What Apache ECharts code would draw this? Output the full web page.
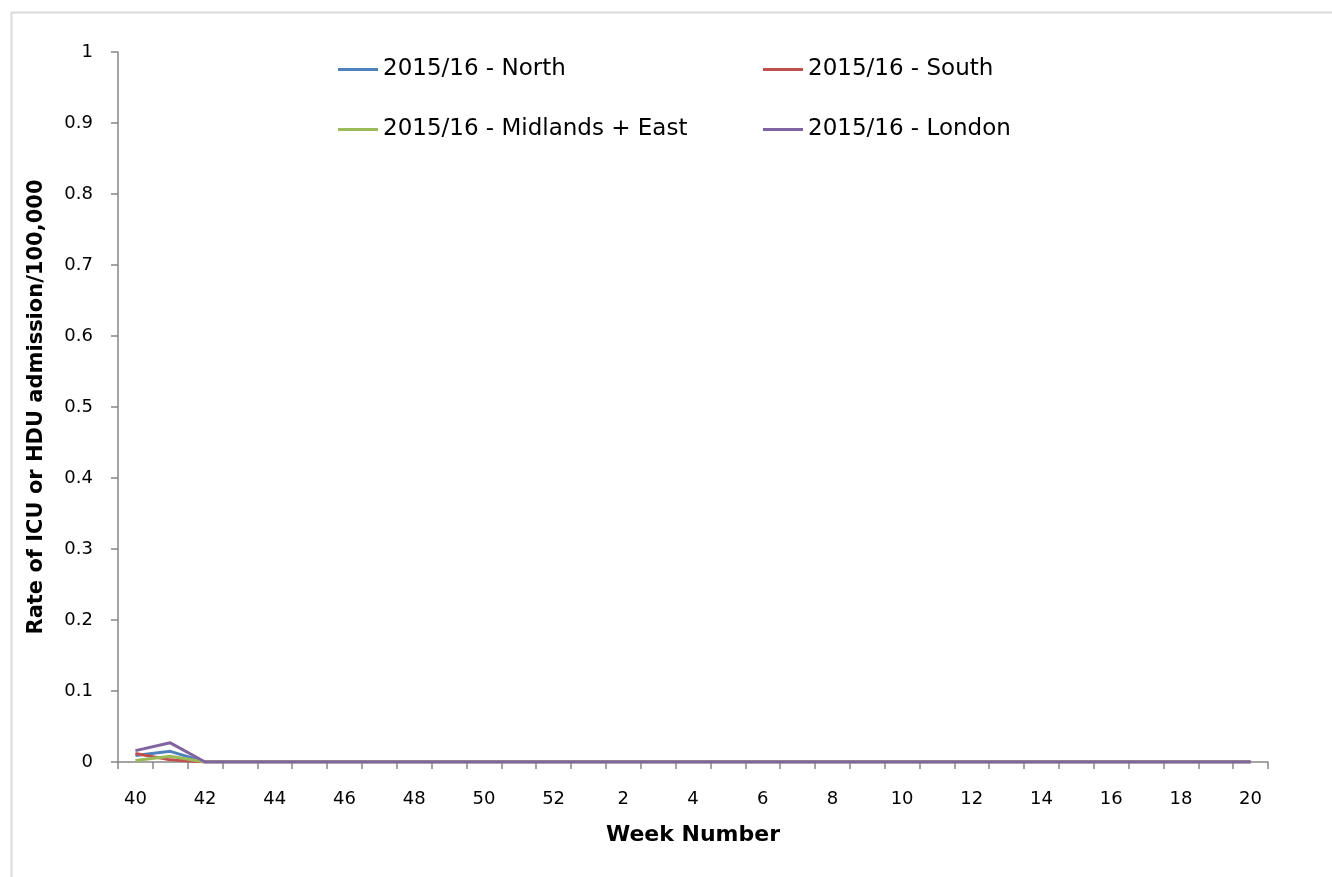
<!DOCTYPE html>
<html>
<head>
<meta charset="utf-8">
<script src="https://cdn.jsdelivr.net/npm/echarts@6/dist/echarts.min.js"></script>
<style>
html,body{margin:0;padding:0;background:#fff;}
#chart{width:1332px;height:877px;}
</style>
</head>
<body>
<div id="chart"></div>
<script>
const weeks = ['40','41','42','43','44','45','46','47','48','49','50','51','52','1','2','3','4','5','6','7','8','9','10','11','12','13','14','15','16','17','18','19','20'];
const north    = [0.009,0.015,0,0,0,0,0,0,0,0,0,0,0,0,0,0,0,0,0,0,0,0,0,0,0,0,0,0,0,0,0,0,0];
const south    = [0.012,0.003,0,0,0,0,0,0,0,0,0,0,0,0,0,0,0,0,0,0,0,0,0,0,0,0,0,0,0,0,0,0,0];
const midlands = [0.002,0.008,0,0,0,0,0,0,0,0,0,0,0,0,0,0,0,0,0,0,0,0,0,0,0,0,0,0,0,0,0,0,0];
const london   = [0.016,0.027,0,0,0,0,0,0,0,0,0,0,0,0,0,0,0,0,0,0,0,0,0,0,0,0,0,0,0,0,0,0,0];
const seriesNames = ['2015/16 - North','2015/16 - South','2015/16 - Midlands + East','2015/16 - London'];
const colors = ['#4F81BD','#C0504D','#9BBB59','#8064A2'];

const chart = echarts.init(document.getElementById('chart'));
const fontFam = 'DejaVu Sans';
const legendBase = {
  orient: 'vertical',
  top: 53,
  itemGap: 37,
  itemWidth: 40,
  itemHeight: 3,
  icon: 'rect',
  textStyle: {fontFamily: fontFam, fontSize: 23, color: '#000'}
};
chart.setOption({
  backgroundColor: '#fff',
  animation: false,
  color: colors,
  graphic: [{
    type: 'rect', left: 9, top: 10,
    shape: {width: 1340, height: 890},
    style: {fill: 'none', stroke: '#d9d9d9', lineWidth: 2},
    silent: true
  }],
  legend: [
    Object.assign({}, legendBase, {left: 333, data: [seriesNames[0], seriesNames[2]]}),
    Object.assign({}, legendBase, {left: 758, data: [seriesNames[1], seriesNames[3]]})
  ],
  grid: {left: 118, right: 64, top: 52, bottom: 115, containLabel: false},
  xAxis: {
    type: 'category',
    data: weeks,
    boundaryGap: true,
    name: 'Week Number',
    nameLocation: 'middle',
    nameGap: 62,
    nameTextStyle: {fontFamily: fontFam, fontSize: 22, fontWeight: 'bold', color: '#000'},
    axisLine: {lineStyle: {color: '#868686', width: 1.5}},
    axisTick: {show: true, interval: 0, length: 7, lineStyle: {color: '#868686', width: 1.5}},
    axisLabel: {interval: 1, margin: 28, fontFamily: fontFam, fontSize: 18, color: '#000'},
    splitLine: {show: false}
  },
  yAxis: {
    type: 'value',
    min: 0, max: 1, interval: 0.1,
    name: 'Rate of ICU or HDU admission/100,000',
    nameLocation: 'middle',
    nameGap: 71,
    nameRotate: 90,
    nameTextStyle: {fontFamily: fontFam, fontSize: 21, fontWeight: 'bold', color: '#000'},
    axisLine: {show: true, lineStyle: {color: '#868686', width: 1.5}},
    axisTick: {show: true, length: 7, lineStyle: {color: '#868686', width: 1.5}},
    axisLabel: {margin: 25, fontFamily: fontFam, fontSize: 18, color: '#000'},
    splitLine: {show: false}
  },
  series: [
    {name: seriesNames[0], type: 'line', data: north, symbol: 'none', lineStyle: {width: 3}},
    {name: seriesNames[1], type: 'line', data: south, symbol: 'none', lineStyle: {width: 3}},
    {name: seriesNames[2], type: 'line', data: midlands, symbol: 'none', lineStyle: {width: 3}},
    {name: seriesNames[3], type: 'line', data: london, symbol: 'none', lineStyle: {width: 3}}
  ]
});
</script>
</body>
</html>
